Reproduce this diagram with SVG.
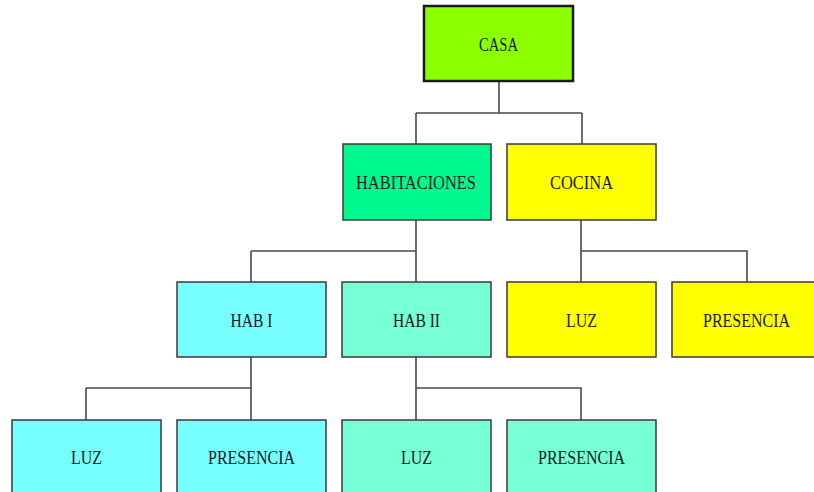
<svg xmlns="http://www.w3.org/2000/svg" width="814" height="492" viewBox="0 0 814 492">
<style>
.box{stroke:#3a3a3a;stroke-width:1.5}
.root{stroke:#1a1a1a;stroke-width:2.5}
.lbl{font-family:"Liberation Serif","Times New Roman",serif;font-size:18.6px;fill:#1a1a1a;text-anchor:middle}
.conn{fill:none;stroke:#4a4a4a;stroke-width:1.6}
</style>
<rect width="814" height="492" fill="#ffffff"/>
<g id="connectors">
<path class="conn" d="M499,81 V113 M416,113 H582 M416,113 V144 M582,113 V144"/>
<path class="conn" d="M416,220 V251 M251,251 H416 M251,251 V282 M416,251 V282"/>
<path class="conn" d="M581,220 V251 H747 V282 M581,251 V282"/>
<path class="conn" d="M251,357 V388 M86,388 H251 M86,388 V420 M251,388 V420"/>
<path class="conn" d="M416,357 V388 H581 V420 M416,388 V420"/>
</g>
<g id="casa"><rect class="root" x="424" y="6" width="149" height="75" fill="#8cff00"/><text class="lbl" x="498.5" y="51" textLength="39" lengthAdjust="spacingAndGlyphs">CASA</text></g>
<g id="habitaciones"><rect class="box" x="343" y="144" width="148" height="76" fill="#00f98e"/><text class="lbl" x="416" y="189" textLength="120" lengthAdjust="spacingAndGlyphs">HABITACIONES</text></g>
<g id="cocina"><rect class="box" x="507" y="144" width="149" height="76" fill="#ffff00"/><text class="lbl" x="581.5" y="189" textLength="63" lengthAdjust="spacingAndGlyphs">COCINA</text></g>
<g id="hab1"><rect class="box" x="177" y="282" width="149" height="75" fill="#77ffff"/><text class="lbl" x="251.5" y="327" textLength="42" lengthAdjust="spacingAndGlyphs">HAB I</text></g>
<g id="hab2"><rect class="box" x="342" y="282" width="149" height="75" fill="#77ffd6"/><text class="lbl" x="416.5" y="327" textLength="47" lengthAdjust="spacingAndGlyphs">HAB II</text></g>
<g id="cocina-luz"><rect class="box" x="507" y="282" width="149" height="75" fill="#ffff00"/><text class="lbl" x="581.5" y="327" textLength="31" lengthAdjust="spacingAndGlyphs">LUZ</text></g>
<g id="cocina-presencia"><rect class="box" x="672" y="282" width="149" height="75" fill="#ffff00"/><text class="lbl" x="746.5" y="327" textLength="87" lengthAdjust="spacingAndGlyphs">PRESENCIA</text></g>
<g id="hab1-luz"><rect class="box" x="12" y="420" width="149" height="80" fill="#77ffff"/><text class="lbl" x="86.5" y="464" textLength="31" lengthAdjust="spacingAndGlyphs">LUZ</text></g>
<g id="hab1-presencia"><rect class="box" x="177" y="420" width="149" height="80" fill="#77ffff"/><text class="lbl" x="251.5" y="464" textLength="87" lengthAdjust="spacingAndGlyphs">PRESENCIA</text></g>
<g id="hab2-luz"><rect class="box" x="342" y="420" width="149" height="80" fill="#77ffd6"/><text class="lbl" x="416.5" y="464" textLength="31" lengthAdjust="spacingAndGlyphs">LUZ</text></g>
<g id="hab2-presencia"><rect class="box" x="507" y="420" width="149" height="80" fill="#77ffd6"/><text class="lbl" x="581.5" y="464" textLength="87" lengthAdjust="spacingAndGlyphs">PRESENCIA</text></g>
</svg>
